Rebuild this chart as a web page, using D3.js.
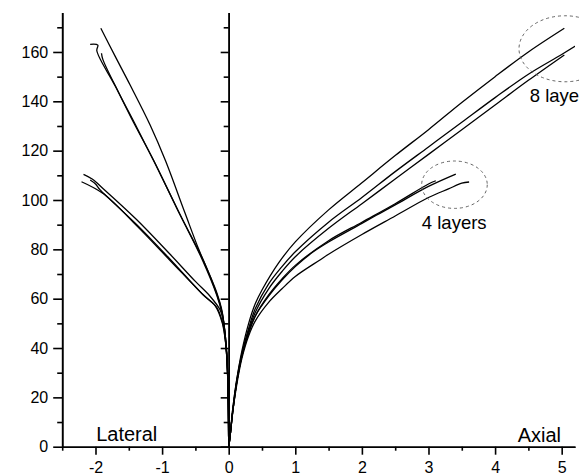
<!DOCTYPE html>
<html>
<head>
<meta charset="utf-8">
<script src="https://cdn.jsdelivr.net/npm/d3@7"></script>
<style>
  body { margin: 0; background: #fff; }
  svg { display: block; font-family: "Liberation Sans", Arial, sans-serif; }
  .tick text { font-size: 16px; fill: #000; }
  .domain, .tick line { stroke: #000; stroke-width: 1.6px; }
</style>
</head>
<body>
<script>
/* global d3 */
// curves, [displacement, load]
const axial8a = [[0,0],[0.02,4],[0.06,15],[0.12,27],[0.2,39],[0.3,50],[0.4,58],[0.5,63.5],[0.75,74.5],[1.0,83],[1.5,96],[2.0,107],[2.5,118],[3.0,128.5],[3.5,139.5],[4.0,150],[4.5,160],[5.04,169.6]];
const axial8b = [[0,0],[0.02,4],[0.06,15],[0.12,27],[0.2,38],[0.3,48],[0.4,56],[0.6,66],[0.8,73],[1.0,79],[1.5,91],[2.0,101],[2.5,111.5],[3.0,121.5],[3.5,131.5],[4.0,141.5],[4.5,151],[5.0,159],[5.3,164]];
const axial8c = [[0,0],[0.02,4],[0.06,14],[0.12,26],[0.2,37],[0.3,47],[0.4,54.5],[0.6,64],[0.8,71],[1.0,77],[1.5,88.5],[2.0,98.5],[2.5,108.5],[3.0,118.5],[3.5,128.5],[4.0,138.5],[4.5,148.5],[5.04,158.8]];
const axial4a = [[0,0],[0.02,4],[0.06,14],[0.12,26],[0.2,37],[0.3,46.5],[0.4,53],[0.6,61],[0.8,67.5],[1.0,73],[1.27,79],[1.5,83],[2.0,90.5],[2.27,94.6],[2.5,98],[3.0,105.5],[3.41,110.5]];
const axial4b = [[0,0],[0.02,4],[0.06,14],[0.12,26],[0.2,37],[0.3,46],[0.4,53],[0.6,61.5],[0.8,68],[1.0,73.5],[1.5,83.5],[2.0,91],[2.5,98.5],[3.0,106.5],[3.11,107.8]];
const axial4c = [[0,0],[0.02,4],[0.06,14],[0.12,25],[0.2,36],[0.3,45],[0.4,51],[0.6,58.5],[0.8,64],[1.0,69],[1.37,75.7],[1.5,78],[2.0,86],[2.5,93.5],[3.0,101],[3.3,104.5],[3.5,106.8],[3.61,107.3]];
const lateral8a = [[0,0],[-0.005,16],[-0.015,29],[-0.03,38],[-0.055,46],[-0.1,55],[-0.18,62.5],[-0.3,70.5],[-0.45,80],[-0.66,95],[-0.95,116],[-1.18,130.4],[-1.48,146.6],[-1.7,158],[-1.92,169.6]];
const lateral8b = [[0,0],[-0.005,16],[-0.015,29],[-0.03,38],[-0.055,46],[-0.1,54.5],[-0.18,62],[-0.38,75.5],[-0.73,94],[-1.13,116.2],[-1.43,131.5],[-1.7,146],[-1.98,160.5],[-1.965,162.8],[-2.08,163.1]];
const lateral8c = [[0,0],[-0.005,16],[-0.015,29],[-0.03,38],[-0.055,46],[-0.1,54],[-0.18,61.5],[-0.4,76],[-0.72,93.5],[-1.1,114.5],[-1.4,130.5],[-1.65,143.5],[-1.89,157],[-1.91,159.5]];
const lateral4a = [[0,0],[-0.005,15],[-0.015,28],[-0.03,37],[-0.055,45],[-0.08,51],[-0.13,55.5],[-0.28,61],[-0.5,67],[-0.88,78],[-1.38,92],[-1.88,104.5],[-2.05,108.5],[-2.18,110.4]];
const lateral4b = [[0,0],[-0.005,15],[-0.015,28],[-0.03,37],[-0.055,44.5],[-0.09,50],[-0.18,56.5],[-0.38,61.5],[-0.88,75.5],[-1.38,89.5],[-1.88,102.5],[-2.21,107.4]];
const lateral4c = [[0,0],[-0.005,15],[-0.015,28],[-0.03,37],[-0.06,45],[-0.1,50.5],[-0.2,57],[-0.4,62],[-0.88,76],[-1.38,90],[-1.93,104.1],[-2.0,106.5],[-2.08,108.1]];

const xMajor = [-2, -1, 0, 1, 2, 3, 4, 5];
const xMinor = [-2.5, -1.5, -0.5, 0.5, 1.5, 2.5, 3.5, 4.5];
const yMajor = [0, 20, 40, 60, 80, 100, 120, 140, 160];
const yMinor = [10, 30, 50, 70, 90, 110, 130, 150, 170];

const w = 579;
const h = 475;

const x = d3.scaleLinear().domain([-2.5, 5.2]).range([62.2, 575]);
const y = d3.scaleLinear().domain([0, 176]).range([446.7, 12.5]);

const svg = d3.select('body').append('svg')
  .attr('width', w)
  .attr('height', h);

svg.append('clipPath')
  .attr('id', 'plot')
  .append('rect')
  .attr('x', x(-2.5))
  .attr('y', 0)
  .attr('width', x(5.2) - x(-2.5))
  .attr('height', y(0) + 1);

// curves
const line = d3.line()
  .x((d) => x(d[0]))
  .y((d) => y(d[1]))
  .curve(d3.curveCatmullRom.alpha(0.5));

const curves = [axial8a, axial8b, axial8c, axial4a, axial4b, axial4c,
  lateral8a, lateral8b, lateral8c, lateral4a, lateral4b, lateral4c];

svg.append('g')
  .attr('clip-path', 'url(#plot)')
  .selectAll('path')
  .data(curves)
  .enter()
  .append('path')
  .attr('d', line)
  .attr('fill', 'none')
  .attr('stroke', '#000')
  .attr('stroke-width', 1.3);

// axes
const fmt = (d) => String(d);

svg.append('g')
  .attr('transform', 'translate(0,' + y(0) + ')')
  .call(d3.axisBottom(x).tickValues(xMinor).tickSize(4).tickSizeOuter(0).tickFormat(''));
svg.append('g')
  .attr('transform', 'translate(0,' + y(0) + ')')
  .call(d3.axisBottom(x).tickValues(xMajor).tickSize(8).tickSizeOuter(0).tickFormat(fmt).tickPadding(7));

svg.append('g')
  .attr('transform', 'translate(' + x(-2.5) + ',0)')
  .call(d3.axisLeft(y).tickValues(yMinor).tickSize(5).tickSizeOuter(0).tickFormat(''));
svg.append('g')
  .attr('transform', 'translate(' + x(-2.5) + ',0)')
  .call(d3.axisLeft(y).tickValues(yMajor).tickSize(9).tickSizeOuter(0).tickFormat(fmt).tickPadding(5));

// the zero line in the middle
svg.append('g')
  .attr('transform', 'translate(' + x(0) + ',0)')
  .call(d3.axisLeft(y).tickValues(yMinor).tickSize(5).tickSizeOuter(0).tickFormat(''));
svg.append('g')
  .attr('transform', 'translate(' + x(0) + ',0)')
  .call(d3.axisLeft(y).tickValues(yMajor).tickSize(8).tickSizeOuter(0).tickFormat(''));

// dashed circles round the curve ends
svg.append('ellipse')
  .attr('cx', x(3.39)).attr('cy', y(106.2))
  .attr('rx', 32.8).attr('ry', 23.7)
  .attr('fill', 'none').attr('stroke', '#555')
  .attr('stroke-width', 0.9).attr('stroke-dasharray', '3,3');
svg.append('ellipse')
  .attr('cx', x(5.05)).attr('cy', y(161.3))
  .attr('rx', 46).attr('ry', 33)
  .attr('fill', 'none').attr('stroke', '#555')
  .attr('stroke-width', 0.9).attr('stroke-dasharray', '3,3');

// labels
svg.append('text')
  .attr('x', x(-1.99)).attr('y', y(2.4))
  .style('font-size', '20px')
  .text('Lateral');
svg.append('text')
  .attr('x', x(4.99)).attr('y', y(2.1))
  .style('font-size', '20px')
  .style('text-anchor', 'end')
  .text('Axial');
svg.append('text')
  .attr('x', x(2.9)).attr('y', y(88.2))
  .style('font-size', '18.5px')
  .text('4 layers');
// cut off by the right edge, as in the source figure
svg.append('text')
  .attr('x', x(4.52)).attr('y', y(139.8))
  .style('font-size', '18.5px')
  .text('8 layers');
</script>
</body>
</html>
